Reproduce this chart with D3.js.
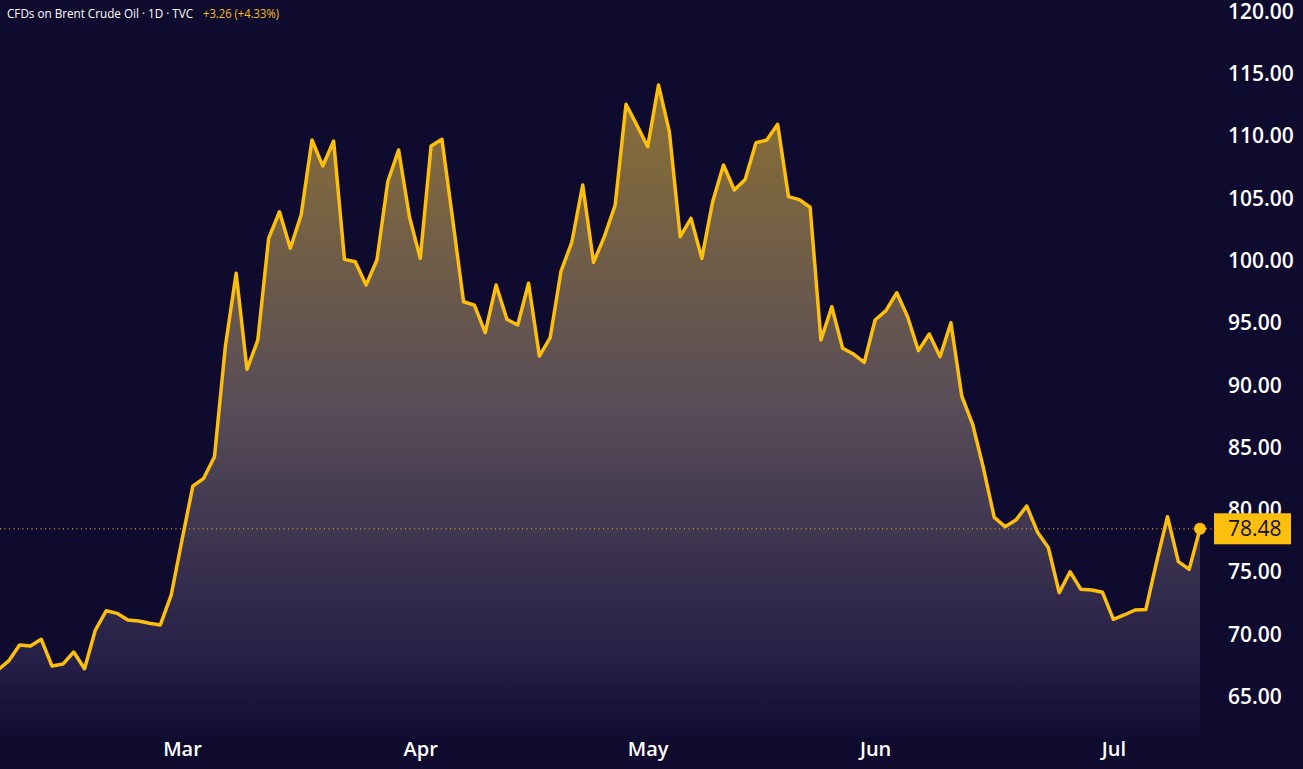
<!DOCTYPE html>
<html>
<head>
  <meta charset="utf-8" />
  <title>Brent</title>
  <script src="https://d3js.org/d3.v7.min.js"></script>
  <style>
    html, body { margin: 0; padding: 0; background: #0f0b2f; overflow: hidden; }
  </style>
</head>
<body>
  <script>
    // data (daily closes, one per trading day)
    const titleText = "CFDs on Brent Crude Oil · 1D · TVC";
    const changeText = "+3.26 (+4.33%)";
    const monthLabels = ["Mar", "Apr", "May", "Jun", "Jul"];
    const monthIdx = [17, 39, 60, 81, 103];
    const yTicks = [65, 70, 75, 80, 85, 90, 95, 100, 105, 110, 115, 120];
    const closes = [
      67.14, 67.87, 69.15, 69.07, 69.61, 67.46, 67.62, 68.59, 67.25, 70.35,
      71.90, 71.69, 71.16, 71.08, 70.89, 70.76, 73.16, 77.58, 81.91, 82.53,
      84.27, 93.10, 98.99, 91.28, 93.63, 101.80, 103.93, 101.00, 103.67, 109.69,
      107.60, 109.61, 100.11, 99.92, 98.05, 100.06, 106.34, 108.89, 103.53, 100.19,
      109.21, 109.75, 103.27, 96.71, 96.44, 94.22, 98.05, 95.30, 94.84, 98.19,
      92.35, 93.83, 99.17, 101.50, 106.08, 99.87, 101.93, 104.47, 112.56, 110.89,
      109.15, 114.10, 110.36, 101.93, 103.40, 100.19, 104.74, 107.68, 105.68, 106.53,
      109.47, 109.69, 110.95, 105.15, 104.91, 104.29, 93.63, 96.31, 92.97, 92.51,
      91.84, 95.24, 95.99, 97.43, 95.50, 92.78, 94.12, 92.29, 95.02, 89.14,
      86.89, 83.36, 79.40, 78.65, 79.18, 80.31, 78.20, 76.96, 73.35, 75.03,
      73.62, 73.57, 73.38, 71.21, 71.56, 71.96, 72.00, 75.84, 79.45, 75.84,
      75.22, 78.48
    ];

    let width = 1303;
    let height = 769;
    let bottomY = 738;
    let axisLeftX = 1228;
    let lastPrice = closes[closes.length - 1];

    let svg = d3.select("body")
      .append("svg")
      .attr("width", width)
      .attr("height", height)
      .style("display", "block");

    svg.append("rect")
      .attr("width", width)
      .attr("height", height)
      .attr("fill", "#0f0b2f");

    let scaleX = d3.scaleLinear()
      .domain([0, closes.length - 1])
      .range([-2.1, 1200]);
    let scaleY = d3.scaleLinear()
      .domain([65, 120])
      .range([696.7, 11.6]);

    // gradient under the line
    let defs = svg.append("defs");
    let grad = defs.append("linearGradient")
      .attr("id", "areaGrad")
      .attr("gradientUnits", "userSpaceOnUse")
      .attr("x1", 0).attr("x2", 0)
      .attr("y1", scaleY(d3.max(closes)))
      .attr("y2", bottomY);
    grad.append("stop").attr("offset", "0%").attr("stop-color", "#8c7035");
    grad.append("stop").attr("offset", "50%").attr("stop-color", "#574c58");
    grad.append("stop").attr("offset", "88%").attr("stop-color", "#261f47");
    grad.append("stop").attr("offset", "100%").attr("stop-color", "#110c31");

    let area = d3.area()
      .x((d, i) => scaleX(i))
      .y0(bottomY)
      .y1(d => scaleY(d));

    svg.append("path")
      .datum(closes)
      .attr("d", area)
      .attr("fill", "url(#areaGrad)");

    // dotted last price line
    svg.append("line")
      .attr("x1", 0)
      .attr("x2", 1214)
      .attr("y1", scaleY(lastPrice))
      .attr("y2", scaleY(lastPrice))
      .attr("stroke", "#f5be1a")
      .attr("stroke-width", 1)
      .attr("stroke-dasharray", "1,3.5");

    let lineF = d3.line()
      .x((d, i) => scaleX(i))
      .y(d => scaleY(d));

    svg.append("path")
      .datum(closes)
      .attr("d", lineF)
      .attr("fill", "none")
      .attr("stroke", "#fcbf0d")
      .attr("stroke-width", 3.5)
      .attr("stroke-linejoin", "round")
      .attr("stroke-linecap", "round");

    svg.append("circle")
      .attr("cx", scaleX(closes.length - 1))
      .attr("cy", scaleY(lastPrice))
      .attr("r", 6)
      .attr("fill", "#fcbf0d");

    // price axis on the right
    let axisY = d3.axisRight(scaleY)
      .tickValues(yTicks)
      .tickSize(0)
      .tickPadding(0)
      .tickFormat(d3.format(".2f"));
    let gy = svg.append("g")
      .attr("transform", `translate(${axisLeftX}, 0)`)
      .call(axisY);
    gy.select(".domain").remove();
    gy.selectAll("text")
      .attr("fill", "#ffffff")
      .style("font-family", "'Open Sans', sans-serif")
      .style("font-size", "21px")
      .style("font-weight", "600");

    // time axis
    let axisX = d3.axisBottom(scaleX)
      .tickValues(monthIdx)
      .tickSize(0)
      .tickPadding(0)
      .tickFormat((d, i) => monthLabels[i]);
    let gx = svg.append("g")
      .attr("transform", `translate(0, 742)`)
      .call(axisX);
    gx.select(".domain").remove();
    gx.selectAll("text")
      .attr("fill", "#ffffff")
      .style("font-family", "'Open Sans', sans-serif")
      .style("font-size", "20px")
      .style("font-weight", "600");

    // last price label
    svg.append("rect")
      .attr("x", 1214)
      .attr("y", scaleY(lastPrice) - 15.5)
      .attr("width", 77)
      .attr("height", 31)
      .attr("fill", "#fcbf0d");
    svg.append("text")
      .attr("x", axisLeftX)
      .attr("y", scaleY(lastPrice))
      .attr("dy", "0.36em")
      .attr("fill", "#131020")
      .style("font-family", "'Open Sans', sans-serif")
      .style("font-size", "21px")
      .text(d3.format(".2f")(lastPrice));

    // header
    svg.append("text")
      .attr("x", 7)
      .attr("y", 18)
      .attr("fill", "#ffffff")
      .attr("textLength", 186)
      .attr("lengthAdjust", "spacingAndGlyphs")
      .style("font-family", "'Open Sans', sans-serif")
      .style("font-size", "12.5px")
      .text(titleText);
    svg.append("text")
      .attr("x", 203)
      .attr("y", 18)
      .attr("fill", "#f5be1a")
      .attr("textLength", 76)
      .attr("lengthAdjust", "spacingAndGlyphs")
      .style("font-family", "'Open Sans', sans-serif")
      .style("font-size", "12.5px")
      .text(changeText);
  </script>
</body>
</html>
